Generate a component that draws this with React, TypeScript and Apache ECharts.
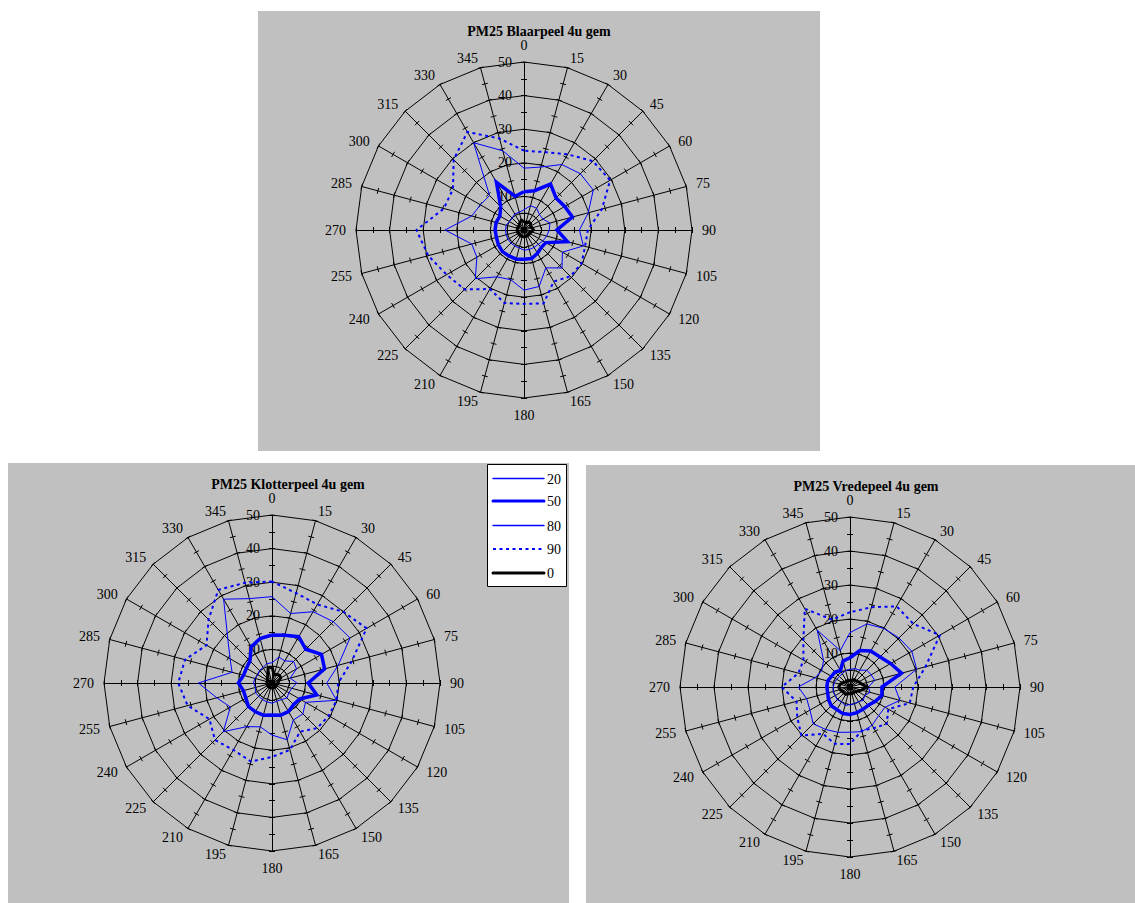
import React, { useEffect, useRef } from "react";
import * as echarts from "echarts";

// Wind directions (degrees, clockwise from north) and the value scale of the rings
const DIRECTIONS = [0, 15, 30, 45, 60, 75, 90, 105, 120, 135, 150, 165, 180, 195, 210, 225, 240, 255, 270, 285, 300, 315, 330, 345];
const VALUE_MIN = 0;
const VALUE_MAX = 50;

// Percentile series names as listed in the legend
const SERIES_NAMES = ["20", "50", "80", "90", "0"];

// PM2.5, 4-hour averages per wind direction – Blaarpeel
const BLAARPEEL_P20 = [6, 7.5, 7.5, 6.5, 6.5, 8, 7.5, 7, 6.5, 6, 6, 6, 6, 5.5, 5.5, 5.5, 5.5, 5.5, 5.5, 5.5, 5, 5, 5.5, 5.5];
const BLAARPEEL_P50 = [11.4, 12.1, 15.8, 13.5, 14, 14.9, 9.8, 13.4, 7.5, 7.3, 8, 8.8, 8.7, 9, 8.9, 9.1, 8.8, 8.5, 8.6, 8.6, 8.3, 9.8, 16.4, 10.4];
const BLAARPEEL_P80 = [18.4, 19.4, 22.5, 23.7, 23.8, 19.8, 16.5, 18.3, 13.2, 16, 13, 17.4, 17.9, 15.3, 16.1, 20.5, 16.2, 16.1, 23.5, 16.1, 15, 14.5, 30, 24.4];
const BLAARPEEL_P90 = [23.6, 24, 26, 29, 29.6, 24, 19, 18.8, 19.8, 19.5, 17.7, 22.6, 22, 22.5, 20.3, 25, 26.6, 29.5, 32, 24.7, 24.4, 29.6, 33.7, 28.2];
const BLAARPEEL_P0 = [2.5, 2.2, 2.8, 2.8, 2.2, 2.5, 2.8, 2.2, 2, 2, 2, 2, 2, 2, 2, 2, 2, 2, 2, 2, 2, 2, 2.5, 3];

// Klotterpeel
const KLOTTERPEEL_P20 = [6, 8, 7.6, 9.1, 8.4, 5.6, 7.4, 6.1, 5.8, 6.3, 5.7, 5.6, 6, 5.8, 5.7, 5.6, 5.7, 5.1, 5.5, 5.3, 4.8, 5.3, 5.3, 6];
const KLOTTERPEEL_P50 = [14.3, 14.7, 15.9, 14.2, 17, 16.2, 10.8, 13.8, 9.5, 9.1, 9.8, 9.9, 9.5, 9.9, 9.9, 9.9, 9, 8.8, 10, 8.8, 8.8, 9.3, 12.4, 13.7];
const KLOTTERPEEL_P80 = [25.7, 21.4, 24.5, 25.8, 26.8, 20.4, 16.3, 19.9, 11.5, 13, 12.7, 17.5, 15.5, 13.5, 15, 20.5, 14.3, 17, 21.9, 12.3, 14.4, 18.6, 28.8, 26];
const KLOTTERPEEL_P90 = [30.2, 27.7, 27, 30, 32.5, 24.5, 19.7, 19.9, 19.5, 19, 16.7, 20.6, 22, 24.2, 23, 24, 21.5, 26, 27.9, 26.8, 22.5, 26.7, 32, 30.9];
const KLOTTERPEEL_P0 = [4.8, 2.5, 3, 3.2, 3, 2, 1.8, 1.5, 1.5, 1.5, 1.5, 1.5, 1.5, 1.5, 1.5, 1.5, 1.5, 1.5, 1.5, 1.5, 1.5, 2, 2.5, 4.5];

// Vredepeel
const VREDEPEEL_P20 = [5.2, 5.6, 5.7, 7, 7.2, 7.5, 5.4, 6.1, 5, 5.5, 5, 5.1, 5.2, 5.6, 5, 5.3, 5, 5.1, 4.9, 4.8, 4.5, 4.4, 4.5, 5];
const VREDEPEEL_P50 = [8.6, 11.1, 12.2, 12.5, 13.8, 15.7, 9.4, 9.7, 8.5, 7.6, 7.6, 7.8, 8.1, 8.1, 7.7, 7.8, 7.3, 6.8, 6.8, 6.8, 6.3, 6.2, 5.6, 7.9];
const VREDEPEEL_P80 = [16, 19.2, 19.9, 20.4, 21, 20.3, 13.2, 15.2, 11.9, 11.9, 13, 13.6, 13.3, 13.8, 14.4, 15.3, 13.6, 13.2, 15.2, 10.6, 9.6, 11, 19.3, 11.1];
const VREDEPEEL_P90 = [22, 24.3, 27.4, 26.3, 30.5, 23, 18.6, 18.2, 13, 15.3, 14, 13.3, 16.8, 17.3, 15.9, 20.2, 17.9, 16.3, 20.1, 15.7, 15.8, 19.4, 26.6, 20.5];
const VREDEPEEL_P0 = [2, 2, 2.5, 2.5, 3, 3.5, 5, 3.5, 2.5, 2, 2, 2, 2, 2, 2.5, 2.5, 2.5, 3, 3.3, 3, 2.5, 2, 2, 2];

const STATION_TITLES = ["PM25 Blaarpeel 4u gem", "PM25 Klotterpeel 4u gem", "PM25 Vredepeel 4u gem"];
const STATION_SERIES = [
  [BLAARPEEL_P20, BLAARPEEL_P50, BLAARPEEL_P80, BLAARPEEL_P90, BLAARPEEL_P0],
  [KLOTTERPEEL_P20, KLOTTERPEEL_P50, KLOTTERPEEL_P80, KLOTTERPEEL_P90, KLOTTERPEEL_P0],
  [VREDEPEEL_P20, VREDEPEEL_P50, VREDEPEEL_P80, VREDEPEEL_P90, VREDEPEEL_P0],
];

// Page layout of the three panels (pixels)
const LAYOUT = [
  { panel: [258, 11, 562, 440], center: [524, 230], radius: 168, titleX: 539, titleY: 24 },
  { panel: [8, 463, 561, 440], center: [272, 683], radius: 168, titleX: 288, titleY: 477 },
  { panel: [586, 465, 560, 438], center: [850, 687], radius: 170, titleX: 866, titleY: 479 },
];

const FONT = "'Liberation Serif', 'Times New Roman', serif";
const BLUE = "#0000ff";
const PANEL_GRAY = "#c0c0c0";

const SERIES_STYLES = [
  { color: BLUE, width: 1, type: "solid" },
  { color: BLUE, width: 3.5, type: "solid" },
  { color: BLUE, width: 1, type: "solid" },
  { color: BLUE, width: 2, type: [3, 3.5] },
  { color: "#000000", width: 3, type: "solid" },
];

// ECharts lays radar indicators out counter-clockwise; keep the first one on top and reverse the rest
const clockwise = <T,>(arr: T[]): T[] => [arr[0], ...arr.slice(1).reverse()];
const indicatorNames = clockwise(DIRECTIONS.map(String));

function gridRadar(center: number[], radius: number) {
  return {
    center,
    radius,
    startAngle: 90,
    shape: "polygon",
    splitNumber: 5,
    nameGap: 10,
    indicator: indicatorNames.map((name, i) => ({
      name,
      min: VALUE_MIN,
      max: VALUE_MAX,
      ...(i === 0
        ? {
            axisLabel: {
              show: true,
              margin: 12,
              color: "#000",
              fontSize: 14,
              fontFamily: FONT,
              showMinLabel: false,
            },
          }
        : {}),
    })),
    axisName: { color: "#000", fontSize: 14, fontFamily: FONT },
    axisLine: { show: true, lineStyle: { color: "#000", width: 1 } },
    splitLine: { show: true, lineStyle: { color: "#000", width: 1 } },
    splitArea: { show: false },
    axisTick: { show: false },
    axisLabel: { show: false },
  };
}

// Minor tick marks every 5 units; two copies with opposite tick lengths make a cross on each spoke
function tickRadar(center: number[], radius: number, side: number) {
  return {
    center,
    radius,
    startAngle: 90,
    shape: "polygon",
    splitNumber: 10,
    indicator: indicatorNames.map((name) => ({ name, min: VALUE_MIN, max: VALUE_MAX })),
    axisName: { show: false },
    axisLine: { show: false },
    splitLine: { show: false },
    splitArea: { show: false },
    axisLabel: { show: false },
    axisTick: { show: true, length: 3 * side, lineStyle: { color: "#000", width: 1 } },
  };
}

function legendSample(s: number, y: number) {
  const st = SERIES_STYLES[s];
  const dashed = Array.isArray(st.type);
  return {
    type: "line",
    z: 101,
    silent: true,
    shape: { x1: 493, y1: y, x2: 544, y2: y },
    style: {
      stroke: st.color,
      lineWidth: s === 1 ? 3 : st.width === 1 ? 1.4 : st.width,
      lineDash: dashed ? st.type : undefined,
      lineCap: dashed ? "butt" : "round",
    },
  };
}

function buildOption() {
  const radar: any[] = [];
  const series: any[] = [];
  const title: any[] = [];
  const graphic: any[] = [];

  LAYOUT.forEach((lay, k) => {
    const [px, py, pw, ph] = lay.panel;
    graphic.push({
      type: "rect",
      z: -10,
      silent: true,
      shape: { x: px, y: py, width: pw, height: ph },
      style: { fill: PANEL_GRAY },
    });
    title.push({
      text: STATION_TITLES[k],
      left: lay.titleX,
      top: lay.titleY,
      textAlign: "center",
      padding: 0,
      textStyle: { fontFamily: FONT, fontSize: 14, fontWeight: "bold", color: "#000" },
    });
    const base = radar.length;
    radar.push(gridRadar(lay.center, lay.radius));
    radar.push(tickRadar(lay.center, lay.radius, 1));
    radar.push(tickRadar(lay.center, lay.radius, -1));
    series.push({
      type: "radar",
      radarIndex: base,
      symbol: "none",
      silent: true,
      z: 3,
      data: SERIES_NAMES.map((name, s) => ({
        name,
        value: clockwise(STATION_SERIES[k][s]),
        lineStyle: { ...SERIES_STYLES[s], cap: "butt", join: "miter" },
        areaStyle: { opacity: 0 },
      })),
    });
  });

  // Legend box between the two lower panels
  const box = { x: 487.5, y: 464.5, w: 79, h: 122 };
  graphic.push({
    type: "rect",
    z: 100,
    silent: true,
    shape: { x: box.x, y: box.y, width: box.w, height: box.h },
    style: { fill: "#ffffff", stroke: "#000", lineWidth: 1 },
  });
  const rowY = [478.5, 501, 525.5, 549, 573];
  SERIES_NAMES.forEach((name, s) => {
    graphic.push(legendSample(s, rowY[s]));
    graphic.push({
      type: "text",
      z: 101,
      silent: true,
      x: 547,
      y: Math.round(rowY[s]),
      style: {
        text: name,
        fontFamily: FONT,
        fontSize: 14,
        fill: "#000",
        verticalAlign: "middle",
      },
    });
  });

  return {
    animation: false,
    backgroundColor: "#ffffff",
    title,
    radar,
    series,
    graphic,
  };
}

export default function App() {
  const ref = useRef<HTMLDivElement>(null);
  useEffect(() => {
    if (!ref.current) return;
    const chart = echarts.init(ref.current, undefined, { renderer: "svg" });
    chart.setOption(buildOption() as any);
    return () => chart.dispose();
  }, []);
  return (
    <div
      ref={ref}
      style={{ position: "absolute", left: 0, top: 0, width: 1135, height: 903 }}
    />
  );
}
